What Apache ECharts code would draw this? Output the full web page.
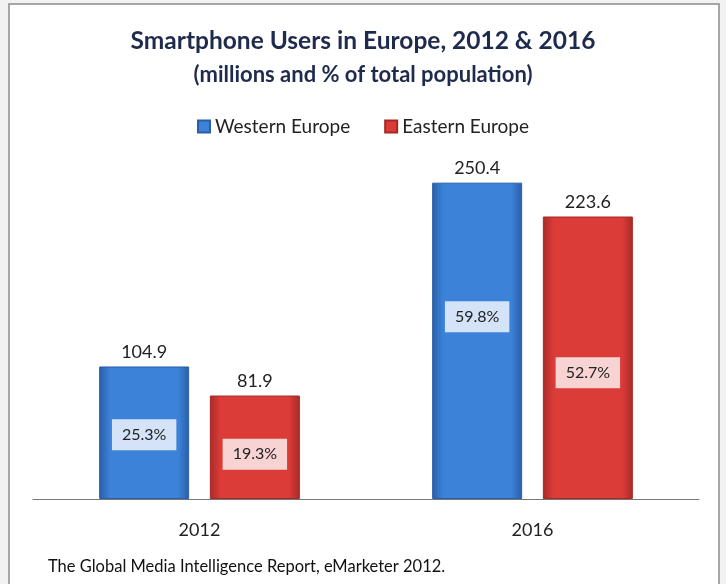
<!DOCTYPE html>
<html>
<head>
<meta charset="utf-8">
<script src="https://cdn.jsdelivr.net/npm/echarts@6/dist/echarts.min.js"></script>
<style>
    html, body { margin: 0; padding: 0; background: #f2f2f2; }
    #chart { width: 726px; height: 584px; }
</style>
</head>
<body>
<div id="chart"></div>
<script>
    var years = ['2012', '2016'];
    var western = [104.9, 250.4];
    var eastern = [81.9, 223.6];
    var westernShare = ['25.3%', '59.8%'];
    var easternShare = ['19.3%', '52.7%'];

    // where the percentage boxes sit, relative to the bar centre
    var westernOffset = [[0, 2], [0, -24]];
    var easternOffset = [[0, 7], [0, 15]];

    var font = 'Lato';

    function barColor(dark, light) {
        return new echarts.graphic.LinearGradient(0, 0, 1, 0, [
            { offset: 0, color: dark },
            { offset: 0.12, color: light },
            { offset: 0.5, color: light },
            { offset: 0.88, color: light },
            { offset: 1, color: dark }
        ]);
    }

    function buildData(values, shares, offsets) {
        return values.map(function (v, i) {
            return {
                value: v,
                share: shares[i],
                label: { offset: offsets[i] }
            };
        });
    }

    function shareLabel() {
        return {
            show: true,
            position: 'inside',
            formatter: function (p) { return p.data.share; },
            color: '#222',
            fontFamily: font,
            fontSize: 16,
            backgroundColor: 'rgba(255,255,255,0.78)',
            padding: [8, 10, 7, 10]
        };
    }

    function valueMarks(values) {
        return {
            symbol: 'rect',
            symbolSize: 1,
            itemStyle: { color: 'rgba(0,0,0,0)' },
            label: {
                show: true,
                position: 'top',
                distance: 5,
                formatter: function (p) { return p.value.toFixed(1); },
                fontFamily: font,
                fontSize: 18,
                color: '#222'
            },
            data: values.map(function (v, i) { return { coord: [i, v], value: v }; })
        };
    }

    var chart = echarts.init(document.getElementById('chart'));

    var option = {
        backgroundColor: '#f2f2f2',
        animation: false,
        graphic: [
            {
                type: 'rect',
                shape: { x: 9, y: 4, width: 710, height: 600 },
                style: { fill: '#ffffff', stroke: '#8a8a8a', lineWidth: 1.5 },
                z: -10
            }
        ],
        title: [
            {
                text: 'Smartphone Users in Europe, 2012 & 2016',
                left: 'center',
                top: 24,
                textStyle: { fontFamily: font, fontSize: 24.5, fontWeight: 'bold', color: '#1f2b4d' }
            },
            {
                text: '(millions and % of total population)',
                left: 'center',
                top: 59,
                textStyle: { fontFamily: font, fontSize: 22, fontWeight: 'bold', color: '#1f2b4d' }
            },
            {
                text: 'The Global Media Intelligence Report, eMarketer 2012.',
                left: 43,
                top: 553,
                textStyle: { fontFamily: font, fontSize: 16.5, fontWeight: 'normal', color: '#111' }
            }
        ],
        legend: {
            top: 112,
            left: 'center',
            itemWidth: 12,
            itemHeight: 12,
            itemGap: 34,
            icon: 'rect',
            textStyle: { fontFamily: font, fontSize: 19, color: '#222' },
            data: ['Western Europe', 'Eastern Europe']
        },
        grid: {
            left: 33,
            right: 27,
            top: 120,
            bottom: 85
        },
        xAxis: {
            type: 'category',
            data: years,
            axisLine: { lineStyle: { color: '#777', width: 1 } },
            axisTick: { show: false },
            axisLabel: { fontFamily: font, fontSize: 18, color: '#222', margin: 22 }
        },
        yAxis: {
            type: 'value',
            min: 0,
            max: 300,
            show: false,
            splitLine: { show: false }
        },
        series: [
            {
                name: 'Western Europe',
                type: 'bar',
                barWidth: 90,
                barGap: '23%',
                data: buildData(western, westernShare, westernOffset),
                itemStyle: {
                    color: barColor('#2a5ea8', '#3b82d8'),
                    borderColor: '#2b5fa5',
                    borderWidth: 1
                },
                label: shareLabel(),
                markPoint: valueMarks(western)
            },
            {
                name: 'Eastern Europe',
                type: 'bar',
                barWidth: 90,
                data: buildData(eastern, easternShare, easternOffset),
                itemStyle: {
                    color: barColor('#a82a27', '#dc3c38'),
                    borderColor: '#a52825',
                    borderWidth: 1
                },
                label: shareLabel(),
                markPoint: valueMarks(eastern)
            }
        ]
    };

    chart.setOption(option);

    window.addEventListener('resize', function () {
        chart.resize();
    });
</script>
</body>
</html>
